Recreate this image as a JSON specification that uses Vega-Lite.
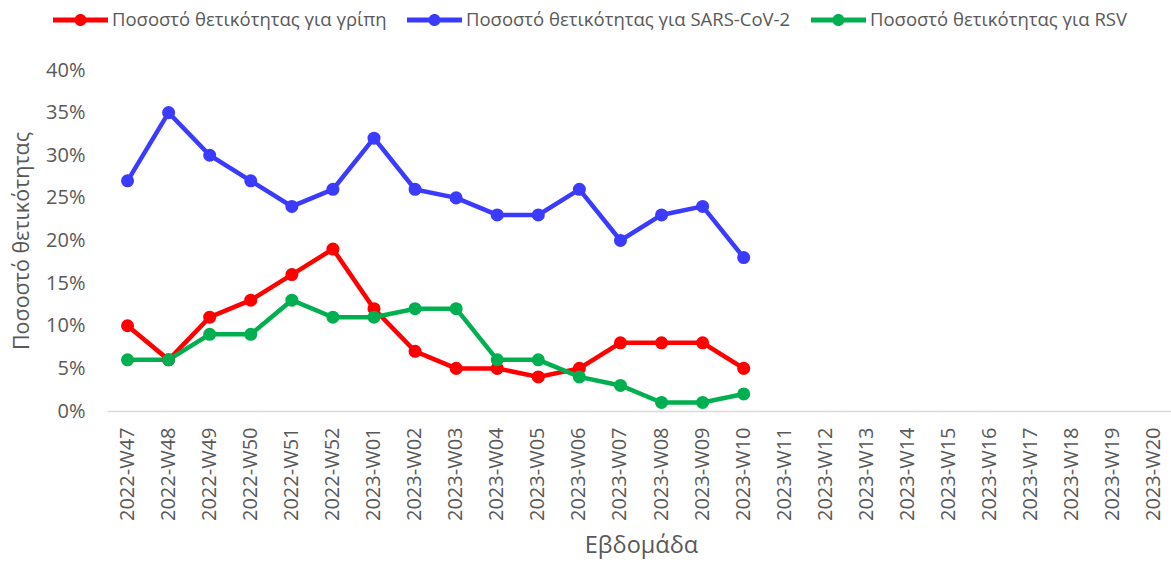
{
  "$schema": "https://vega.github.io/schema/vega-lite/v6.json",
  "width": 1064,
  "height": 341,
  "autosize": {"type": "none"},
  "padding": {"left": 107, "top": 70, "right": 0, "bottom": 156},
  "config": {
    "view": {"stroke": null},
    "font": "Open Sans",
    "axis": {"labelColor": "#595959", "titleColor": "#595959", "titleFontWeight": "normal", "grid": false, "ticks": false}
  },
  "data": {
    "values": [
      {"week": "2022-W47", "series": "Ποσοστό θετικότητας για γρίπη", "value": 0.10},
      {"week": "2022-W48", "series": "Ποσοστό θετικότητας για γρίπη", "value": 0.06},
      {"week": "2022-W49", "series": "Ποσοστό θετικότητας για γρίπη", "value": 0.11},
      {"week": "2022-W50", "series": "Ποσοστό θετικότητας για γρίπη", "value": 0.13},
      {"week": "2022-W51", "series": "Ποσοστό θετικότητας για γρίπη", "value": 0.16},
      {"week": "2022-W52", "series": "Ποσοστό θετικότητας για γρίπη", "value": 0.19},
      {"week": "2023-W01", "series": "Ποσοστό θετικότητας για γρίπη", "value": 0.12},
      {"week": "2023-W02", "series": "Ποσοστό θετικότητας για γρίπη", "value": 0.07},
      {"week": "2023-W03", "series": "Ποσοστό θετικότητας για γρίπη", "value": 0.05},
      {"week": "2023-W04", "series": "Ποσοστό θετικότητας για γρίπη", "value": 0.05},
      {"week": "2023-W05", "series": "Ποσοστό θετικότητας για γρίπη", "value": 0.04},
      {"week": "2023-W06", "series": "Ποσοστό θετικότητας για γρίπη", "value": 0.05},
      {"week": "2023-W07", "series": "Ποσοστό θετικότητας για γρίπη", "value": 0.08},
      {"week": "2023-W08", "series": "Ποσοστό θετικότητας για γρίπη", "value": 0.08},
      {"week": "2023-W09", "series": "Ποσοστό θετικότητας για γρίπη", "value": 0.08},
      {"week": "2023-W10", "series": "Ποσοστό θετικότητας για γρίπη", "value": 0.05},
      {"week": "2022-W47", "series": "Ποσοστό θετικότητας για SARS-CoV-2", "value": 0.27},
      {"week": "2022-W48", "series": "Ποσοστό θετικότητας για SARS-CoV-2", "value": 0.35},
      {"week": "2022-W49", "series": "Ποσοστό θετικότητας για SARS-CoV-2", "value": 0.30},
      {"week": "2022-W50", "series": "Ποσοστό θετικότητας για SARS-CoV-2", "value": 0.27},
      {"week": "2022-W51", "series": "Ποσοστό θετικότητας για SARS-CoV-2", "value": 0.24},
      {"week": "2022-W52", "series": "Ποσοστό θετικότητας για SARS-CoV-2", "value": 0.26},
      {"week": "2023-W01", "series": "Ποσοστό θετικότητας για SARS-CoV-2", "value": 0.32},
      {"week": "2023-W02", "series": "Ποσοστό θετικότητας για SARS-CoV-2", "value": 0.26},
      {"week": "2023-W03", "series": "Ποσοστό θετικότητας για SARS-CoV-2", "value": 0.25},
      {"week": "2023-W04", "series": "Ποσοστό θετικότητας για SARS-CoV-2", "value": 0.23},
      {"week": "2023-W05", "series": "Ποσοστό θετικότητας για SARS-CoV-2", "value": 0.23},
      {"week": "2023-W06", "series": "Ποσοστό θετικότητας για SARS-CoV-2", "value": 0.26},
      {"week": "2023-W07", "series": "Ποσοστό θετικότητας για SARS-CoV-2", "value": 0.20},
      {"week": "2023-W08", "series": "Ποσοστό θετικότητας για SARS-CoV-2", "value": 0.23},
      {"week": "2023-W09", "series": "Ποσοστό θετικότητας για SARS-CoV-2", "value": 0.24},
      {"week": "2023-W10", "series": "Ποσοστό θετικότητας για SARS-CoV-2", "value": 0.18},
      {"week": "2022-W47", "series": "Ποσοστό θετικότητας για RSV", "value": 0.06},
      {"week": "2022-W48", "series": "Ποσοστό θετικότητας για RSV", "value": 0.06},
      {"week": "2022-W49", "series": "Ποσοστό θετικότητας για RSV", "value": 0.09},
      {"week": "2022-W50", "series": "Ποσοστό θετικότητας για RSV", "value": 0.09},
      {"week": "2022-W51", "series": "Ποσοστό θετικότητας για RSV", "value": 0.13},
      {"week": "2022-W52", "series": "Ποσοστό θετικότητας για RSV", "value": 0.11},
      {"week": "2023-W01", "series": "Ποσοστό θετικότητας για RSV", "value": 0.11},
      {"week": "2023-W02", "series": "Ποσοστό θετικότητας για RSV", "value": 0.12},
      {"week": "2023-W03", "series": "Ποσοστό θετικότητας για RSV", "value": 0.12},
      {"week": "2023-W04", "series": "Ποσοστό θετικότητας για RSV", "value": 0.06},
      {"week": "2023-W05", "series": "Ποσοστό θετικότητας για RSV", "value": 0.06},
      {"week": "2023-W06", "series": "Ποσοστό θετικότητας για RSV", "value": 0.04},
      {"week": "2023-W07", "series": "Ποσοστό θετικότητας για RSV", "value": 0.03},
      {"week": "2023-W08", "series": "Ποσοστό θετικότητας για RSV", "value": 0.01},
      {"week": "2023-W09", "series": "Ποσοστό θετικότητας για RSV", "value": 0.01},
      {"week": "2023-W10", "series": "Ποσοστό θετικότητας για RSV", "value": 0.02}
    ]
  },
  "encoding": {
    "x": {
      "field": "week", "type": "ordinal",
      "scale": {"type": "band", "paddingInner": 0, "paddingOuter": 0, "range": [0, 1068], "domain": ["2022-W47","2022-W48","2022-W49","2022-W50","2022-W51","2022-W52","2023-W01","2023-W02","2023-W03","2023-W04","2023-W05","2023-W06","2023-W07","2023-W08","2023-W09","2023-W10","2023-W11","2023-W12","2023-W13","2023-W14","2023-W15","2023-W16","2023-W17","2023-W18","2023-W19","2023-W20"]},
      "axis": {"title": "Εβδομάδα", "labelAngle": -90, "labelFontSize": 20, "labelPadding": 16, "titleFontSize": 23.5, "titlePadding": 13, "domainColor": "#D9D9D9", "domainWidth": 1.5}
    },
    "y": {
      "field": "value", "type": "quantitative",
      "scale": {"domain": [0, 0.4]},
      "axis": {"title": "Ποσοστό θετικότητας", "format": ".0%", "values": [0, 0.05, 0.1, 0.15, 0.2, 0.25, 0.3, 0.35, 0.4], "domain": false, "labelFontSize": 20, "labelPadding": 22, "titleFontSize": 21.5, "titlePadding": 12}
    },
    "color": {
      "field": "series", "type": "nominal",
      "scale": {"domain": ["Ποσοστό θετικότητας για γρίπη", "Ποσοστό θετικότητας για SARS-CoV-2", "Ποσοστό θετικότητας για RSV"], "range": ["#FF0000", "#3B3BFF", "#00B050"]},
      "legend": {
        "title": null, "orient": "none", "direction": "horizontal", "legendX": -54, "legendY": -77.5,
        "symbolType": "M-1,-0.09 L1,-0.09 L1,0.09 L-1,0.09 Z M0,-0.22 A0.22,0.22 0 1,1 0,0.22 A0.22,0.22 0 1,1 0,-0.22 Z",
        "symbolSize": 3025, "symbolStrokeWidth": 0, "labelFontSize": 18.5, "labelColor": "#595959", "labelOffset": 4, "columnPadding": 20, "labelLimit": 600,
        "encode": {"symbols": {"update": {"fill": {"scale": "color", "field": "value"}, "strokeWidth": {"value": 0}, "opacity": {"value": 1}}}}
      }
    }
  },
  "layer": [
    {"mark": {"type": "line", "strokeWidth": 4.5}},
    {"mark": {"type": "point", "filled": true, "size": 170, "opacity": 1}}
  ]
}
